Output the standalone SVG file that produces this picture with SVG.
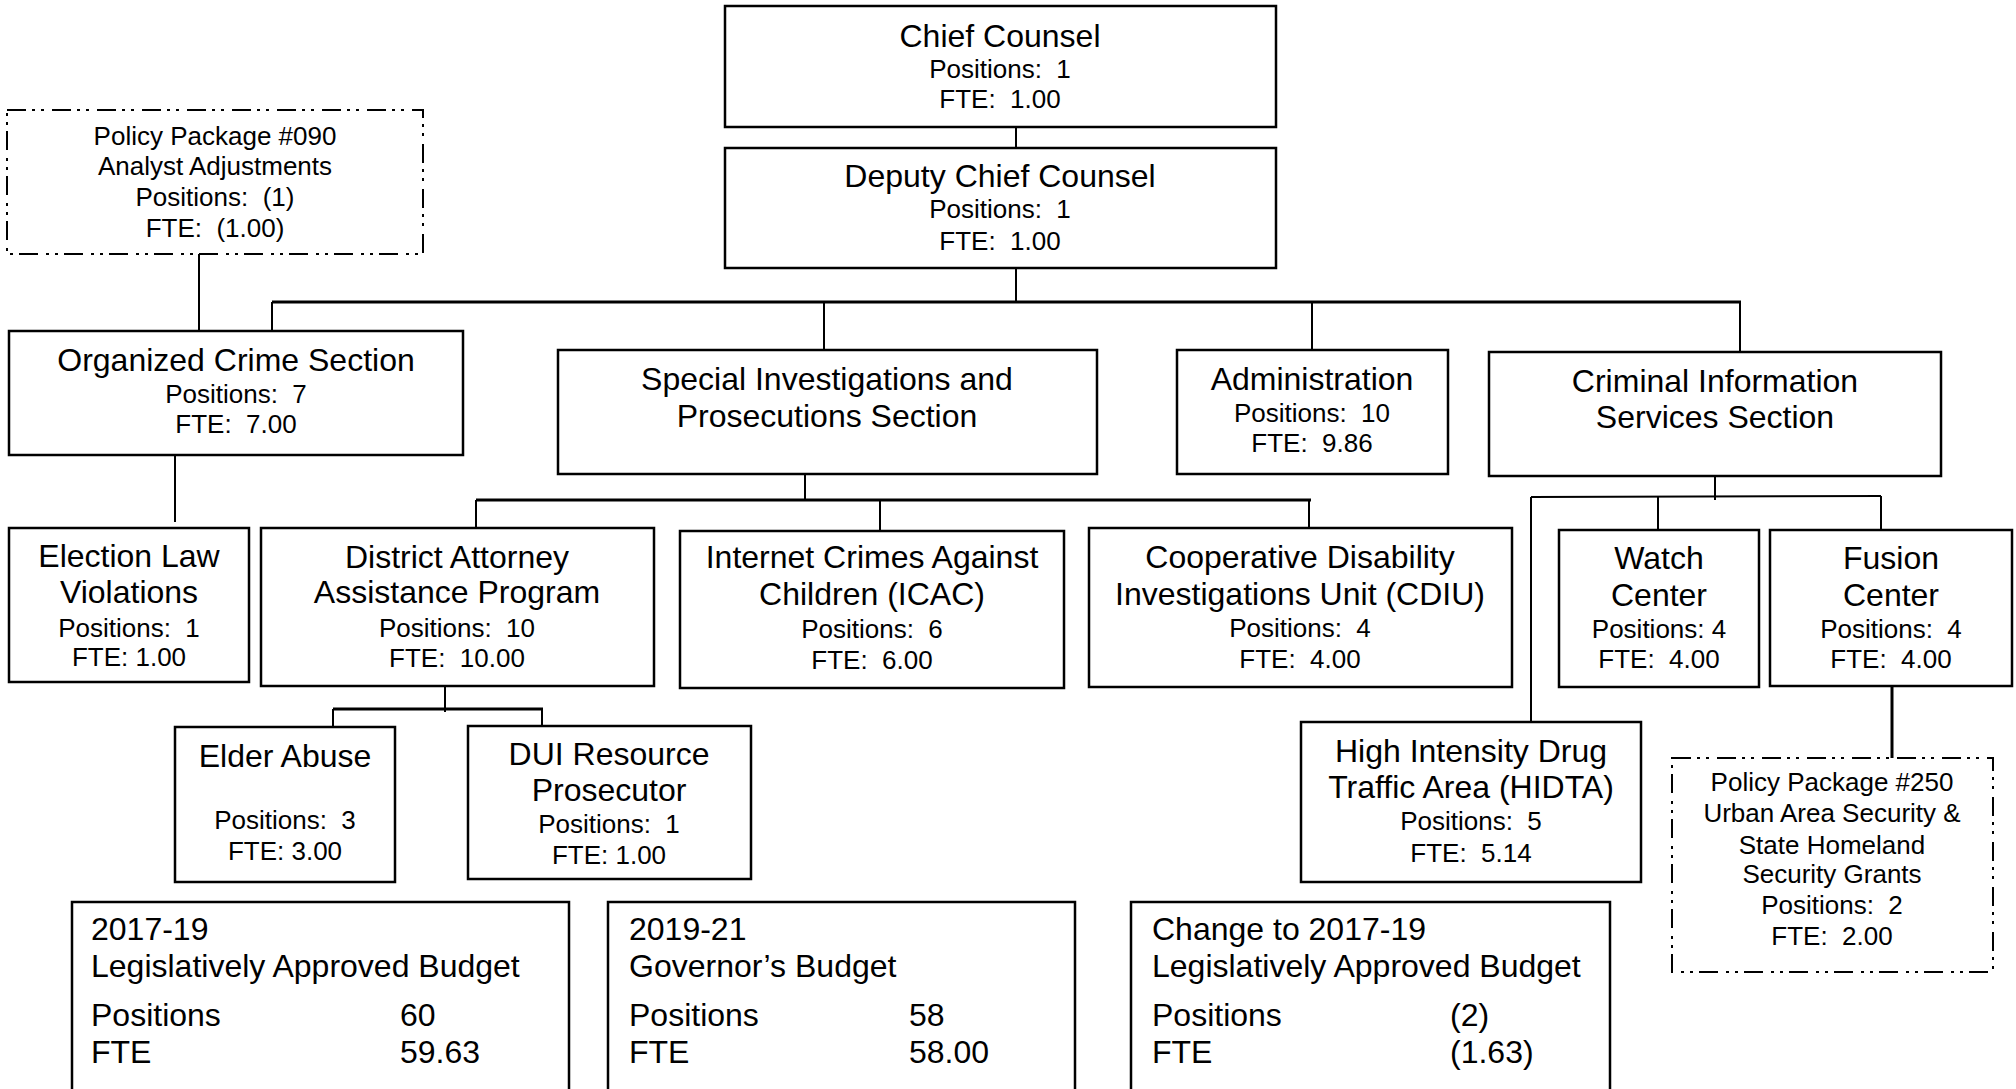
<svg xmlns="http://www.w3.org/2000/svg" width="2016" height="1089" viewBox="0 0 2016 1089" xml:space="preserve">
<style>
  .box { fill: #fff; stroke: #000; stroke-width: 2.5; }
  .pkg { fill: #fff; stroke: #000; stroke-width: 2; stroke-dasharray: 19 6 3 6 3 8; }
  .ln { stroke: #000; stroke-width: 2; fill: none; }
  .bus { stroke: #000; stroke-width: 3; fill: none; }
  text { font-family: "Liberation Sans", Arial, sans-serif; fill: #000; white-space: pre; }
  .t { font-size: 32px; text-anchor: middle; }
  .s { font-size: 26px; text-anchor: middle; }
  .b { font-size: 32px; }
</style>
<rect x="0" y="0" width="2016" height="1089" fill="#fff"/>

<!-- connectors -->
<g id="connectors">
  <line class="ln" x1="1016" y1="127" x2="1016" y2="148"/>
  <line class="ln" x1="1016" y1="268" x2="1016" y2="302"/>
  <line class="bus" x1="272" y1="302" x2="1741" y2="302"/>
  <line class="ln" x1="272" y1="302" x2="272" y2="331"/>
  <line class="ln" x1="824" y1="302" x2="824" y2="350"/>
  <line class="ln" x1="1312" y1="302" x2="1312" y2="350"/>
  <line class="ln" x1="1740" y1="302" x2="1740" y2="352"/>
  <line class="ln" x1="199" y1="254" x2="199" y2="331"/>
  <line class="ln" x1="175" y1="455" x2="175" y2="522"/>
  <line class="ln" x1="805" y1="474" x2="805" y2="500"/>
  <line class="bus" x1="476" y1="500" x2="1311" y2="500"/>
  <line class="ln" x1="476" y1="500" x2="476" y2="528"/>
  <line class="ln" x1="880" y1="500" x2="880" y2="531"/>
  <line class="ln" x1="1309" y1="500" x2="1309" y2="528"/>
  <line class="ln" x1="1715" y1="476" x2="1715" y2="500"/>
  <line class="ln" x1="1531" y1="497" x2="1881" y2="496"/>
  <line class="ln" x1="1658" y1="496" x2="1658" y2="530"/>
  <line class="ln" x1="1881" y1="496" x2="1881" y2="530"/>
  <line class="ln" x1="1531" y1="497" x2="1531" y2="722"/>
  <line class="ln" x1="445" y1="686" x2="445" y2="712"/>
  <line class="bus" x1="333" y1="709" x2="543" y2="709"/>
  <line class="ln" x1="333" y1="709" x2="333" y2="727"/>
  <line class="ln" x1="542" y1="709" x2="542" y2="726"/>
  <line class="bus" x1="1892" y1="686" x2="1892" y2="758"/>
</g>

<g id="chief-counsel">
  <rect class="box" x="725" y="6" width="551" height="121"/>
  <text class="t" x="1000" y="47">Chief Counsel</text>
  <text class="s" x="1000" y="78">Positions:  1</text>
  <text class="s" x="1000" y="108">FTE:  1.00</text>
</g>

<g id="deputy-chief-counsel">
  <rect class="box" x="725" y="148" width="551" height="120"/>
  <text class="t" x="1000" y="187">Deputy Chief Counsel</text>
  <text class="s" x="1000" y="218">Positions:  1</text>
  <text class="s" x="1000" y="250">FTE:  1.00</text>
</g>

<g id="policy-package-090">
  <rect class="pkg" x="7" y="110" width="416" height="144"/>
  <text class="s" x="215" y="145">Policy Package #090</text>
  <text class="s" x="215" y="175">Analyst Adjustments</text>
  <text class="s" x="215" y="206">Positions:  (1)</text>
  <text class="s" x="215" y="237">FTE:  (1.00)</text>
</g>

<g id="organized-crime">
  <rect class="box" x="9" y="331" width="454" height="124"/>
  <text class="t" x="236" y="371">Organized Crime Section</text>
  <text class="s" x="236" y="403">Positions:  7</text>
  <text class="s" x="236" y="433">FTE:  7.00</text>
</g>

<g id="special-investigations">
  <rect class="box" x="558" y="350" width="539" height="124"/>
  <text class="t" x="827" y="390">Special Investigations and</text>
  <text class="t" x="827" y="427">Prosecutions Section</text>
</g>

<g id="administration">
  <rect class="box" x="1177" y="350" width="271" height="124"/>
  <text class="t" x="1312" y="390">Administration</text>
  <text class="s" x="1312" y="422">Positions:  10</text>
  <text class="s" x="1312" y="452">FTE:  9.86</text>
</g>

<g id="criminal-information">
  <rect class="box" x="1489" y="352" width="452" height="124"/>
  <text class="t" x="1715" y="392">Criminal Information</text>
  <text class="t" x="1715" y="428">Services Section</text>
</g>

<g id="election-law">
  <rect class="box" x="9" y="528" width="240" height="154"/>
  <text class="t" x="129" y="567">Election Law</text>
  <text class="t" x="129" y="603">Violations</text>
  <text class="s" x="129" y="637">Positions:  1</text>
  <text class="s" x="129" y="666">FTE: 1.00</text>
</g>

<g id="district-attorney">
  <rect class="box" x="261" y="528" width="393" height="158"/>
  <text class="t" x="457" y="568">District Attorney</text>
  <text class="t" x="457" y="603">Assistance Program</text>
  <text class="s" x="457" y="637">Positions:  10</text>
  <text class="s" x="457" y="667">FTE:  10.00</text>
</g>

<g id="icac">
  <rect class="box" x="680" y="531" width="384" height="157"/>
  <text class="t" x="872" y="568">Internet Crimes Against</text>
  <text class="t" x="872" y="605">Children (ICAC)</text>
  <text class="s" x="872" y="638">Positions:  6</text>
  <text class="s" x="872" y="669">FTE:  6.00</text>
</g>

<g id="cdiu">
  <rect class="box" x="1089" y="528" width="423" height="159"/>
  <text class="t" x="1300" y="568">Cooperative Disability</text>
  <text class="t" x="1300" y="605">Investigations Unit (CDIU)</text>
  <text class="s" x="1300" y="637">Positions:  4</text>
  <text class="s" x="1300" y="668">FTE:  4.00</text>
</g>

<g id="watch-center">
  <rect class="box" x="1559" y="530" width="200" height="157"/>
  <text class="t" x="1659" y="569">Watch</text>
  <text class="t" x="1659" y="606">Center</text>
  <text class="s" x="1659" y="638">Positions: 4</text>
  <text class="s" x="1659" y="668">FTE:  4.00</text>
</g>

<g id="fusion-center">
  <rect class="box" x="1770" y="530" width="242" height="156"/>
  <text class="t" x="1891" y="569">Fusion</text>
  <text class="t" x="1891" y="606">Center</text>
  <text class="s" x="1891" y="638">Positions:  4</text>
  <text class="s" x="1891" y="668">FTE:  4.00</text>
</g>

<g id="elder-abuse">
  <rect class="box" x="175" y="727" width="220" height="155"/>
  <text class="t" x="285" y="767">Elder Abuse</text>
  <text class="s" x="285" y="829">Positions:  3</text>
  <text class="s" x="285" y="860">FTE: 3.00</text>
</g>

<g id="dui-resource">
  <rect class="box" x="468" y="726" width="283" height="153"/>
  <text class="t" x="609" y="765">DUI Resource</text>
  <text class="t" x="609" y="801">Prosecutor</text>
  <text class="s" x="609" y="833">Positions:  1</text>
  <text class="s" x="609" y="864">FTE: 1.00</text>
</g>

<g id="hidta">
  <rect class="box" x="1301" y="722" width="340" height="160"/>
  <text class="t" x="1471" y="762">High Intensity Drug</text>
  <text class="t" x="1471" y="798">Traffic Area (HIDTA)</text>
  <text class="s" x="1471" y="830">Positions:  5</text>
  <text class="s" x="1471" y="862">FTE:  5.14</text>
</g>

<g id="policy-package-250">
  <rect class="pkg" x="1672" y="758" width="321" height="214"/>
  <text class="s" x="1832" y="791">Policy Package #250</text>
  <text class="s" x="1832" y="822">Urban Area Security &amp;</text>
  <text class="s" x="1832" y="854">State Homeland</text>
  <text class="s" x="1832" y="883">Security Grants</text>
  <text class="s" x="1832" y="914">Positions:  2</text>
  <text class="s" x="1832" y="945">FTE:  2.00</text>
</g>

<g id="budget-2017-19">
  <rect class="box" x="72" y="902" width="497" height="200"/>
  <text class="b" x="91" y="940">2017-19</text>
  <text class="b" x="91" y="977">Legislatively Approved Budget</text>
  <text class="b" x="91" y="1026">Positions</text>
  <text class="b" x="400" y="1026">60</text>
  <text class="b" x="91" y="1063">FTE</text>
  <text class="b" x="400" y="1063">59.63</text>
</g>

<g id="budget-2019-21">
  <rect class="box" x="608" y="902" width="467" height="200"/>
  <text class="b" x="629" y="940">2019-21</text>
  <text class="b" x="629" y="977">Governor’s Budget</text>
  <text class="b" x="629" y="1026">Positions</text>
  <text class="b" x="909" y="1026">58</text>
  <text class="b" x="629" y="1063">FTE</text>
  <text class="b" x="909" y="1063">58.00</text>
</g>

<g id="budget-change">
  <rect class="box" x="1131" y="902" width="479" height="200"/>
  <text class="b" x="1152" y="940">Change to 2017-19</text>
  <text class="b" x="1152" y="977">Legislatively Approved Budget</text>
  <text class="b" x="1152" y="1026">Positions</text>
  <text class="b" x="1450" y="1026">(2)</text>
  <text class="b" x="1152" y="1063">FTE</text>
  <text class="b" x="1450" y="1063">(1.63)</text>
</g>
</svg>
